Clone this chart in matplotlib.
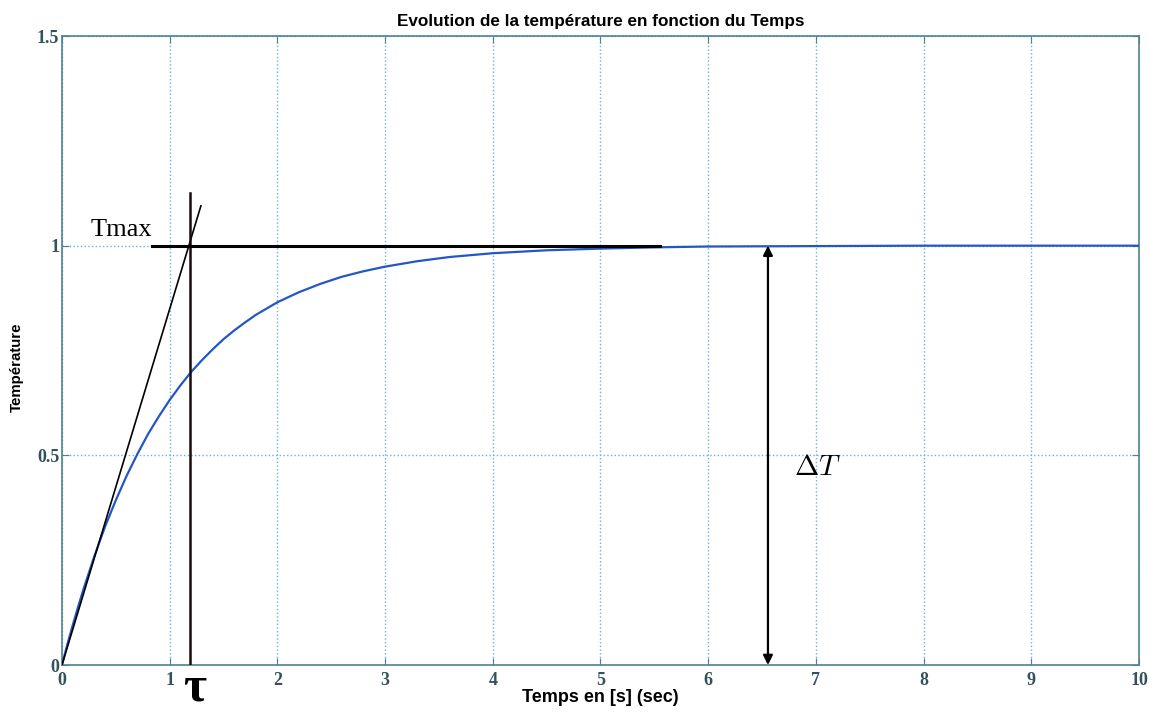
import matplotlib.pyplot as plt
import numpy as np

plt.rcParams['mathtext.fontset'] = 'cm'

# Valeurs (réponse indicielle)
temps = [0, 0.05, 0.1, 0.15, 0.2, 0.3, 0.4, 0.5, 0.6, 0.7, 0.8, 0.9, 1.0, 1.1,
         1.2, 1.3, 1.4, 1.5, 1.6, 1.7, 1.8, 1.9, 2.0, 2.2, 2.4, 2.6, 2.8, 3.0,
         3.3, 3.6, 4.0, 4.5, 5.0, 5.5, 6, 7, 8, 9, 10]
temperature = [0, 0.049, 0.095, 0.139, 0.181, 0.259, 0.330, 0.393, 0.451, 0.503,
               0.551, 0.593, 0.632, 0.667, 0.699, 0.727, 0.753, 0.777, 0.798,
               0.817, 0.835, 0.850, 0.865, 0.889, 0.909, 0.926, 0.939, 0.950,
               0.963, 0.973, 0.982, 0.989, 0.993, 0.996, 0.998, 0.999, 1.0,
               1.0, 1.0]

# Annotations tracées à la main
tangente_x = [0, 1.29]
tangente_y = [0, 1.095]
tau_x = 1.19
tau_haut = 1.126
tmax_x = [0.84, 5.55]
tmax_y = 1.0
fleche_x = 6.555
xticks = list(range(0, 11))
yticks = [0, 0.5, 1, 1.5]

spine_col = '#4f8290'
tick_col = '#33525c'
grid_col = '#6fb0d8'

fig = plt.figure(figsize=(11.56, 7.13), dpi=100)
ax = fig.add_axes([0.0536, 0.0673, 0.9317, 0.8822])

ax.plot(temps, temperature, color='#2457c5', lw=1.6, zorder=3)

# tangente, tau, Tmax
ax.plot(tangente_x, tangente_y, color='black', lw=1.2, zorder=4)
ax.plot([tau_x, tau_x], [0, tau_haut], color='#1a0a0a', lw=1.8, zorder=4)
ax.plot(tmax_x, [tmax_y, tmax_y], color='black', lw=2.2, zorder=4)

# double fleche delta T
ax.annotate('', xy=(fleche_x, 0.0), xytext=(fleche_x, 1.0),
            arrowprops=dict(arrowstyle='<|-|>', color='black', lw=1.6,
                            mutation_scale=14, shrinkA=0, shrinkB=0), zorder=5)
ax.text(7.01, 0.472, r'$\Delta T$', fontsize=21, ha='center', va='center')
ax.text(0.84, 1.0 + 0.01, 'Tmax', fontsize=19, family='Liberation Serif',
        ha='right', va='bottom')
ax.text(tau_x + 0.04, -0.055, 'τ', fontsize=36, family='Liberation Serif',
        fontweight='bold', ha='center', va='center', clip_on=False)

ax.set_xlim(0, 10)
ax.set_ylim(0, 1.5)
ax.set_xticks(xticks)
ax.set_yticks(yticks)
ax.set_xticklabels([str(v) for v in xticks])
ax.set_yticklabels(['0', '0.5', '1', '1.5'])
ax.grid(True, linestyle=':', color=grid_col, lw=1.0)
ax.tick_params(direction='in', length=5, colors=spine_col, labelcolor=tick_col,
               top=True, right=True)
ax.tick_params(axis='y', pad=2)
ax.tick_params(axis='x', pad=5)
for lab in ax.get_xticklabels() + ax.get_yticklabels():
    lab.set_family('Liberation Serif')
    lab.set_fontweight('bold')
    lab.set_fontsize(13)
for s in ax.spines.values():
    s.set_color(spine_col)
    s.set_linewidth(1.2)

ax.set_title('Evolution de la température en fonction du Temps',
             fontsize=12.3, fontweight='bold', family='Liberation Sans', pad=7)
ax.set_xlabel('Temps en [s] (sec)', fontsize=13, fontweight='bold',
              family='Liberation Sans', labelpad=0)
ax.set_ylabel('Température', fontsize=10.8, fontweight='bold',
              family='Liberation Sans')
ax.yaxis.set_label_coords(-0.035, 0.474)

fig.savefig('out.png', dpi=100)
